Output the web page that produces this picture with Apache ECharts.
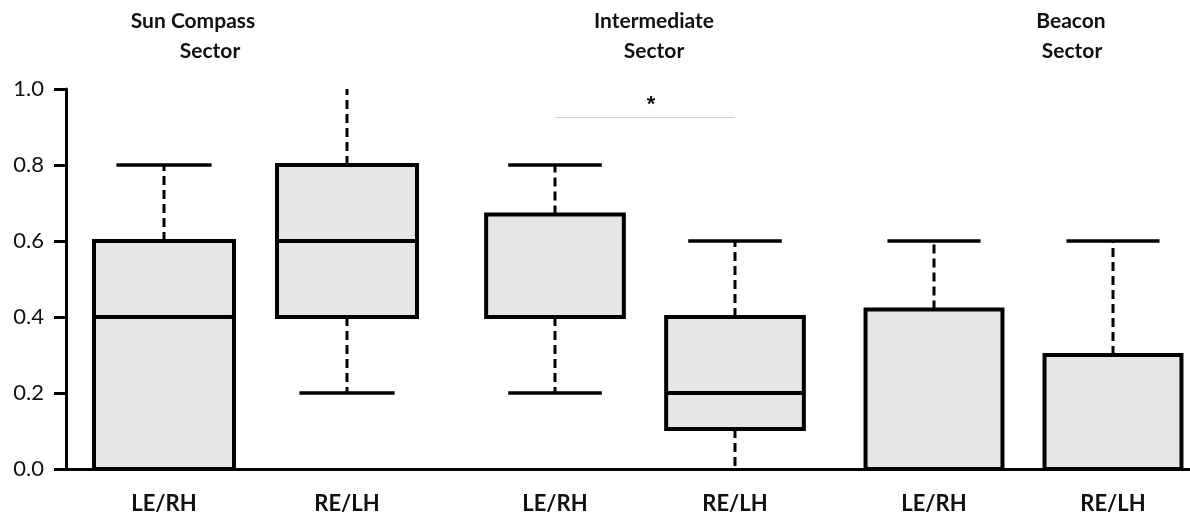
<!DOCTYPE html>
<html>
<head>
<meta charset="utf-8">
<script src="https://cdn.jsdelivr.net/npm/echarts@6/dist/echarts.min.js"></script>
<style>html,body{margin:0;padding:0;background:#fff}#c{width:1190px;height:519px}</style>
</head>
<body>
<div id="c"></div>
<script>
// ---- data ----
const categories = ['LE/RH', 'RE/LH'];
const sectorTitles = [['Sun Compass', 'Sector'], ['Intermediate', 'Sector'], ['Beacon', 'Sector']];
// each box: [min, Q1, median, Q3, max]
const sunCompass   = [[0, 0, 0.4, 0.6, 0.8], [0.2, 0.4, 0.6, 0.8, 1.0]];
const intermediate = [[0.2, 0.4, 0.4, 0.67, 0.8], [0, 0.105, 0.2, 0.4, 0.6]];
const beacon       = [[0, 0, 0, 0.42, 0.6], [0, 0, 0, 0.3, 0.6]];
const yTicks = [0, 0.2, 0.4, 0.6, 0.8, 1.0];
const significance = { y: 0.925, label: '*' }; // Intermediate sector, LE/RH vs RE/LH

const chart = echarts.init(document.getElementById('c'));
const FONT = 'Lato, "Noto Sans", sans-serif';

function renderBox(params, api) {
  const idx = api.value(0);
  const mn = api.value(1), q1 = api.value(2), med = api.value(3), q3 = api.value(4), mx = api.value(5);
  const step = api.size([1, 0])[0];
  const bw = step * 0.765, cw = step * 0.52;
  const cx = api.coord([idx, q1])[0];
  const y = v => api.coord([idx, v])[1];
  const children = [];
  const dash = { stroke: '#000', lineWidth: 3, lineDash: [9, 5] };
  const solid = { stroke: '#000', lineWidth: 3.5 };
  if (mx > q3) {
    children.push({ type: 'line', shape: { x1: cx, y1: y(q3), x2: cx, y2: y(mx) }, style: dash });
    if (mx < 1) children.push({ type: 'line', shape: { x1: cx - cw / 2, y1: y(mx), x2: cx + cw / 2, y2: y(mx) }, style: solid });
  }
  if (mn < q1) {
    children.push({ type: 'line', shape: { x1: cx, y1: y(q1), x2: cx, y2: y(mn) }, style: dash });
    if (mn > 0) children.push({ type: 'line', shape: { x1: cx - cw / 2, y1: y(mn), x2: cx + cw / 2, y2: y(mn) }, style: solid });
  }
  children.push({ type: 'rect', shape: { x: cx - bw / 2, y: y(q3), width: bw, height: y(q1) - y(q3) },
    style: { fill: '#e6e6e6', stroke: '#000', lineWidth: 4 } });
  children.push({ type: 'line', shape: { x1: cx - bw / 2, y1: y(med), x2: cx + bw / 2, y2: y(med) }, style: { stroke: '#000', lineWidth: 4 } });
  return { type: 'group', children };
}

const sectors = [sunCompass, intermediate, beacon];
// each sector grid spans from the first box centre to the second (boundaryGap false)
const gridDefs = [
  { left: 164, width: 183 },
  { left: 555, width: 180 },
  { left: 934, width: 179 }
];
const grids = [{ left: 66, right: 0, top: 89, bottom: 50 }];
const xAxes = [{ gridIndex: 0, type: 'value', min: 0, max: 1,
  axisLine: { show: true, lineStyle: { color: '#000', width: 3 } }, axisTick: { show: false },
  axisLabel: { show: false }, splitLine: { show: false } }];
const yAxes = [{ gridIndex: 0, type: 'value', min: 0, max: 1, interval: 0.2,
  axisLine: { show: true, lineStyle: { color: '#000', width: 3 } },
  axisTick: { show: true, length: 12, lineStyle: { color: '#000', width: 3 } },
  axisLabel: { formatter: v => v.toFixed(1), fontSize: 22, color: '#111', margin: 22, fontFamily: FONT },
  splitLine: { show: false } }];
const series = [];
sectors.forEach((boxes, i) => {
  const g = i + 1;
  grids.push({ left: gridDefs[i].left, width: gridDefs[i].width, top: 89, bottom: 50 });
  xAxes.push({ gridIndex: g, type: 'category', data: categories, boundaryGap: false,
    axisLine: { show: false }, axisTick: { show: false },
    axisLabel: { interval: 0, fontSize: 22, fontWeight: 'bold', color: '#111', margin: 24, fontFamily: FONT } });
  yAxes.push({ gridIndex: g, type: 'value', min: 0, max: 1, show: false });
  const s = {
    type: 'custom', xAxisIndex: g, yAxisIndex: g, clip: false,
    renderItem: renderBox,
    encode: { x: 0, y: [1, 2, 3, 4, 5] },
    data: boxes.map((b, k) => [k].concat(b))
  };
  if (i === 1) {
    s.markLine = {
      silent: true, symbol: 'none',
      lineStyle: { color: '#d0d0d0', width: 1, type: 'solid' },
      label: { show: true, position: 'middle', formatter: significance.label, fontSize: 22, fontWeight: 'bold', color: '#111', distance: 2, offset: [6, 0] },
      data: [[{ coord: [0, significance.y] }, { coord: [1, significance.y] }]]
    };
  }
  series.push(s);
});

const titleCenters = [[193, 210], [654, 654], [1071, 1072]];
const graphic = [];
sectorTitles.forEach((lines, i) => {
  lines.forEach((t, j) => {
    graphic.push({ type: 'text', x: titleCenters[i][j], y: 21 + j * 30,
      style: { text: t, fontSize: 21, fontWeight: 'bold', fontFamily: FONT, fill: '#111', textAlign: 'center', textVerticalAlign: 'middle' } });
  });
});

chart.setOption({
  animation: false,
  grid: grids, xAxis: xAxes, yAxis: yAxes, series, graphic
});
</script>
</body>
</html>
